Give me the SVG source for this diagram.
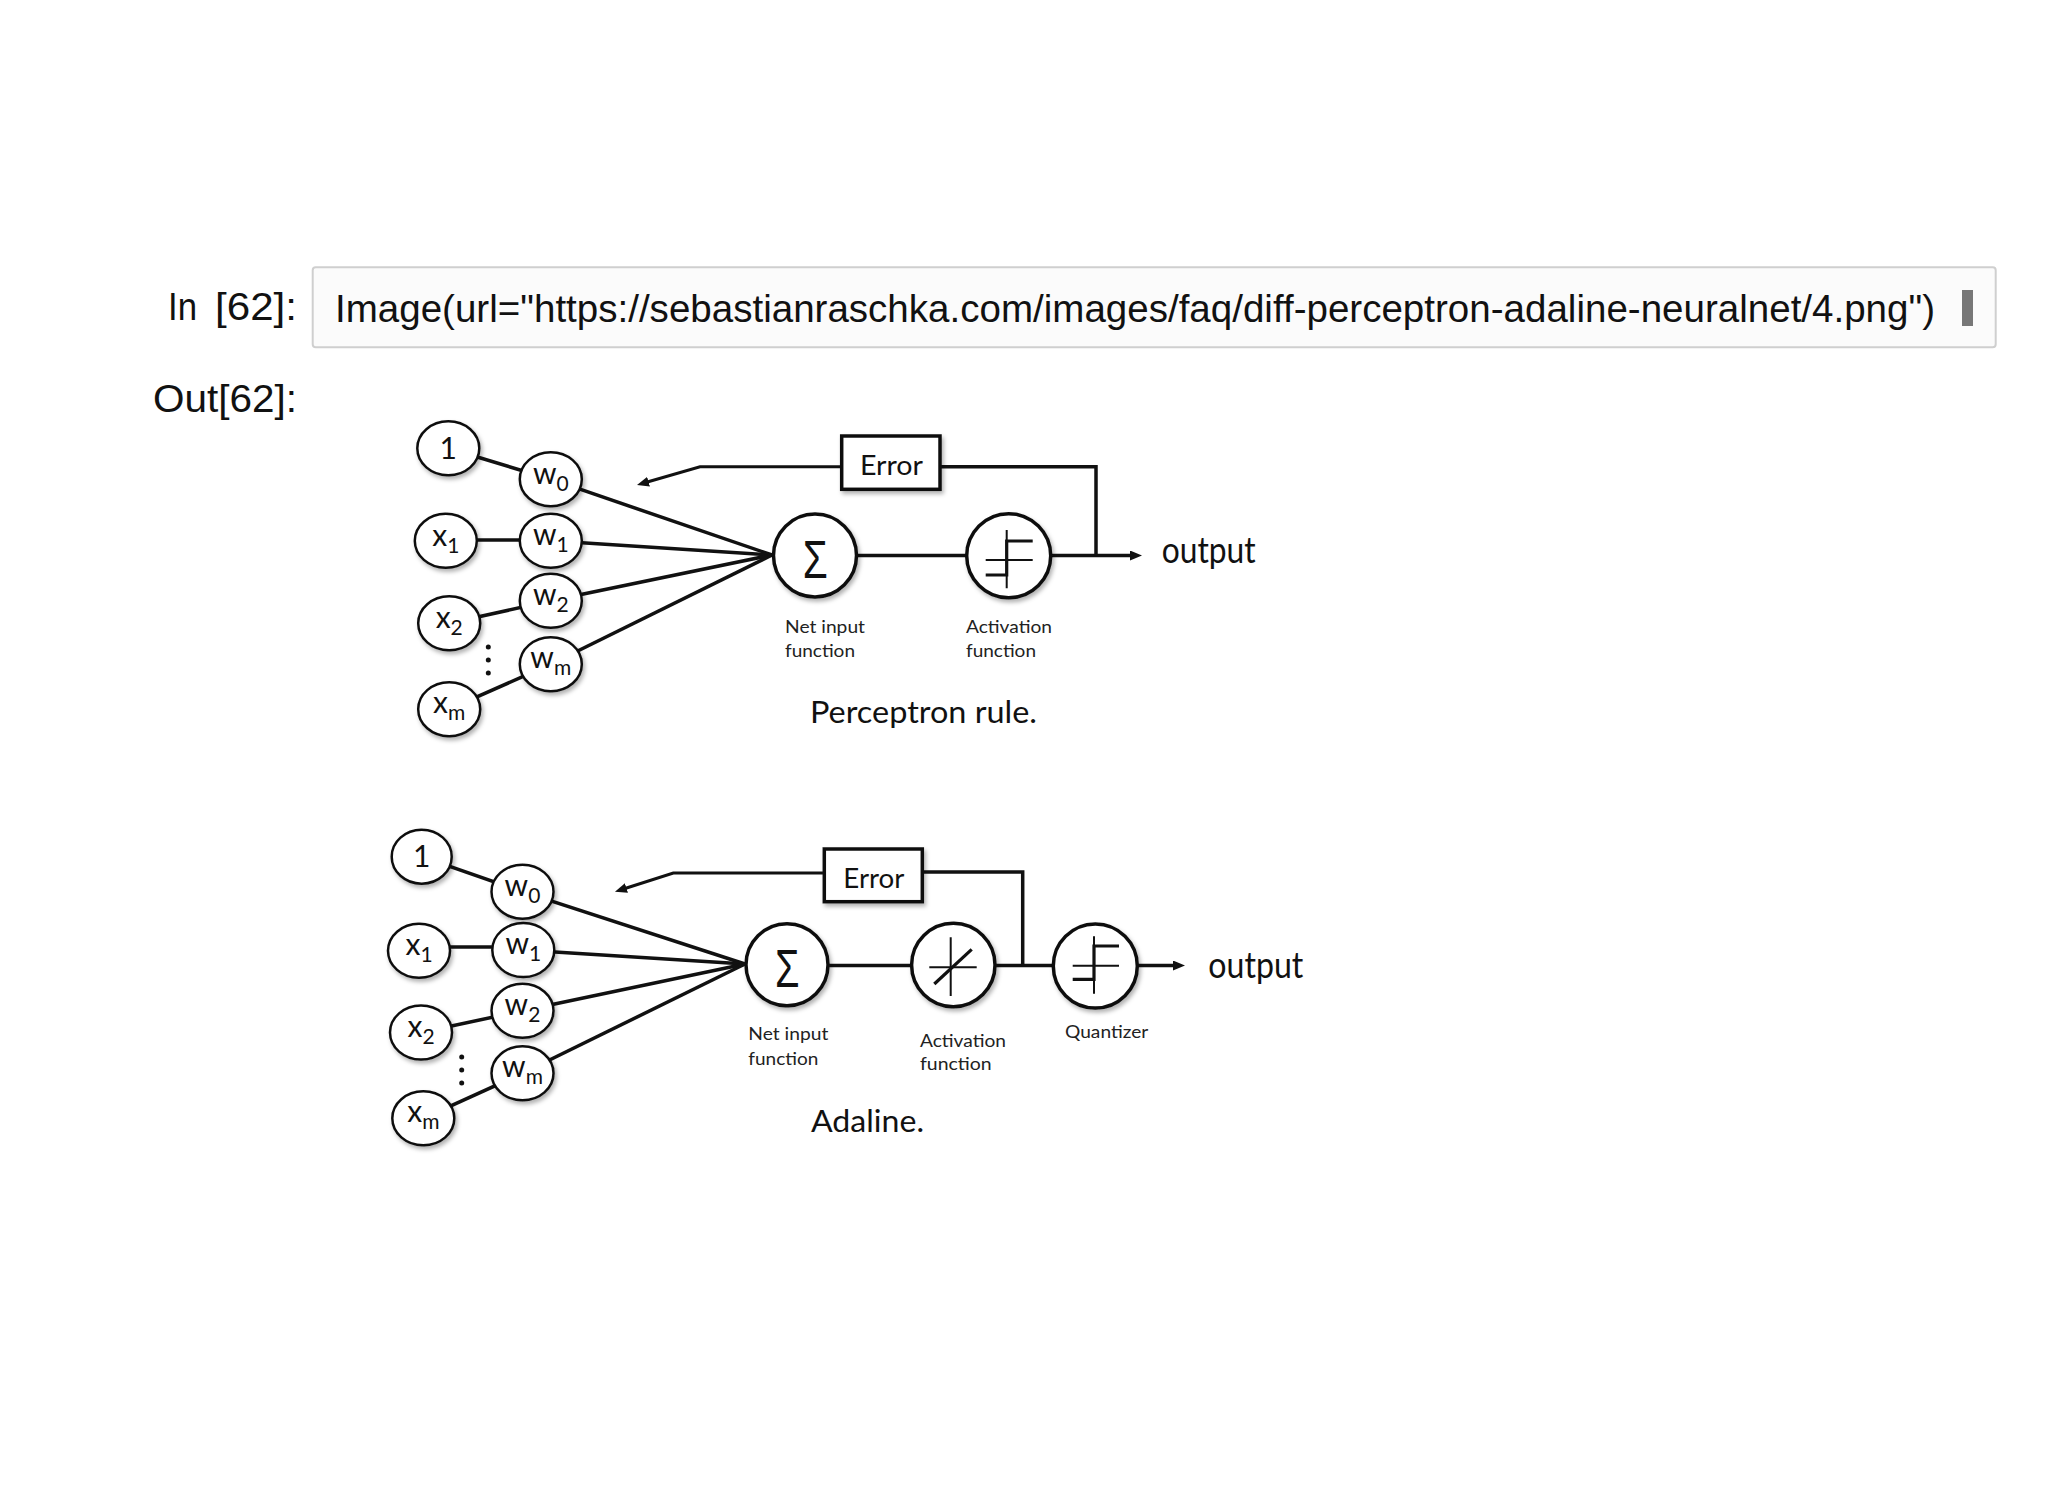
<svg xmlns="http://www.w3.org/2000/svg" width="2048" height="1493" viewBox="0 0 2048 1493">
<style>
.hdr{font-family:"Liberation Sans",Arial,sans-serif;font-size:38px;fill:#111}
.nd{fill:#fff;stroke:#111;stroke-width:2.5;filter:url(#sh)}
.lbl{font-family:Lato,"Liberation Sans",sans-serif;font-size:30px;fill:#111;text-anchor:middle}
.sub{font-size:21px}
.edge{stroke:#111;stroke-width:3.5;fill:none}
.fb{stroke:#111;stroke-width:3;fill:none}
.big{fill:#fff;stroke:#111;stroke-width:3.5;filter:url(#sh)}
.box{fill:#fff;stroke:#111;stroke-width:3.5;filter:url(#sh)}
.sym{font-family:"Liberation Sans",Arial,sans-serif;font-size:54px;fill:#111}
.ax{stroke:#111;stroke-width:2;fill:none}
.st{stroke:#111;stroke-width:3.2;fill:none}
.cap{font-family:Lato,"Liberation Sans",sans-serif;font-size:18px;fill:#222}
.err{font-family:Lato,"Liberation Sans",sans-serif;font-size:26px;fill:#111}
.out{font-family:Lato,"Liberation Sans",sans-serif;font-size:36px;fill:#111}
.title{font-family:Lato,"Liberation Sans",sans-serif;font-size:30px;fill:#111}
</style>
<defs>
<filter id="sh" x="-20%" y="-20%" width="150%" height="150%">
<feDropShadow dx="2" dy="3" stdDeviation="2" flood-color="#000" flood-opacity="0.3"/>
</filter>
<marker id="ah" viewBox="0 0 12 10" refX="4" refY="5" markerWidth="12" markerHeight="10" orient="auto" markerUnits="userSpaceOnUse">
<path d="M0,0 L12,5 L0,10 z" fill="#111"/>
</marker>
</defs>
<rect width="2048" height="1493" fill="#fff"/>

<g id="header">
<text class="hdr" y="320"><tspan x="168" textLength="29" lengthAdjust="spacingAndGlyphs">In</tspan> <tspan x="215" textLength="82" lengthAdjust="spacingAndGlyphs">[62]:</tspan></text>
<rect x="312.7" y="267.3" width="1683" height="80" rx="3" fill="#fbfbfb" stroke="#cfcfcf" stroke-width="2"/>
<text class="hdr" x="335" y="322" textLength="1600" lengthAdjust="spacingAndGlyphs">Image(url="https://sebastianraschka.com/images/faq/diff-perceptron-adaline-neuralnet/4.png")</text>
<rect x="1962" y="290" width="11" height="36" fill="#777"/>
<text class="hdr" x="153" y="411.7" textLength="144" lengthAdjust="spacingAndGlyphs">Out[62]:</text>
</g>

<!-- ===== Perceptron ===== -->
<g id="connectors-perceptron">
<line class="edge" x1="448.3" y1="448.3" x2="550.8" y2="479.2"/>
<line class="edge" x1="445.8" y1="540" x2="550.8" y2="540"/>
<line class="edge" x1="449.2" y1="623.3" x2="550.8" y2="600.8"/>
<line class="edge" x1="449.2" y1="709.2" x2="550.8" y2="664.2"/>
<line class="edge" x1="550.8" y1="479.2" x2="772" y2="555"/>
<line class="edge" x1="550.8" y1="540.8" x2="772" y2="555"/>
<line class="edge" x1="550.8" y1="600.8" x2="772" y2="555"/>
<line class="edge" x1="550.8" y1="664.2" x2="772" y2="555"/>
<line class="edge" x1="815" y1="555.5" x2="1134" y2="555.5" marker-end="url(#ah)"/>
<path class="edge" d="M1096,555.5 V466.7 H890"/>
<path class="fb" d="M890,466.7 H700 L644.7,482.8" marker-end="url(#ah)"/>
</g>

<g id="p-one"><ellipse class="nd" cx="448.3" cy="448.3" rx="31" ry="27"/><text class="lbl" x="448.3" y="459" font-size="28">1</text></g>
<g id="p-w0"><ellipse class="nd" cx="550.8" cy="479.2" rx="31" ry="27"/><text class="lbl" x="550.8" y="484">w<tspan class="sub" dy="7">0</tspan></text></g>
<g id="p-x1"><ellipse class="nd" cx="445.8" cy="540.8" rx="31" ry="27"/><text class="lbl" x="445.8" y="546">x<tspan class="sub" dy="7">1</tspan></text></g>
<g id="p-w1"><ellipse class="nd" cx="550.8" cy="540.8" rx="31" ry="27"/><text class="lbl" x="550.8" y="545">w<tspan class="sub" dy="7">1</tspan></text></g>
<g id="p-x2"><ellipse class="nd" cx="449.2" cy="623.3" rx="31" ry="27"/><text class="lbl" x="449.2" y="628">x<tspan class="sub" dy="7">2</tspan></text></g>
<g id="p-w2"><ellipse class="nd" cx="550.8" cy="600.8" rx="31" ry="27"/><text class="lbl" x="550.8" y="605">w<tspan class="sub" dy="7">2</tspan></text></g>
<g id="p-wm"><ellipse class="nd" cx="550.8" cy="664.2" rx="31" ry="27"/><text class="lbl" x="550.8" y="668">w<tspan class="sub" dy="7">m</tspan></text></g>
<g id="p-xm"><ellipse class="nd" cx="449.2" cy="709.2" rx="31" ry="27"/><text class="lbl" x="449.2" y="713">x<tspan class="sub" dy="7">m</tspan></text></g>
<g id="p-dots" fill="#111"><circle cx="488.3" cy="647" r="2.5"/><circle cx="488.3" cy="660" r="2.5"/><circle cx="488.3" cy="673" r="2.5"/></g>

<g id="p-error"><rect class="box" x="841.7" y="436" width="98.3" height="53.3"/><text class="err" x="860" y="475" textLength="63" lengthAdjust="spacingAndGlyphs">Error</text></g>

<g id="p-sum">
<circle class="big" cx="815" cy="555.5" r="41.5"/>
<text class="sym" x="802.7" y="578.3" textLength="25" lengthAdjust="spacingAndGlyphs">Σ</text>
<text class="cap" x="785" y="632.7" textLength="80" lengthAdjust="spacingAndGlyphs">Net input</text>
<text class="cap" x="785" y="657.3" textLength="70" lengthAdjust="spacingAndGlyphs">function</text>
</g>

<g id="p-act">
<circle class="big" cx="1008.7" cy="555.8" r="42"/>
<path class="ax" d="M1006.7,530 V588.3 M985.7,560 H1032.7"/>
<path class="st" d="M985.7,575 H1006.7 V541 H1032.7"/>
<text class="cap" x="966" y="632.7" textLength="86" lengthAdjust="spacingAndGlyphs">Activation</text>
<text class="cap" x="966" y="657.3" textLength="70" lengthAdjust="spacingAndGlyphs">function</text>
</g>

<g id="p-output"><text class="out" x="1161.7" y="563.3" textLength="94" lengthAdjust="spacingAndGlyphs">output</text></g>
<g id="p-title"><text class="title" x="810" y="723.3" textLength="227" lengthAdjust="spacingAndGlyphs">Perceptron rule.</text></g>

<!-- ===== Adaline ===== -->
<g id="connectors-adaline">
<line class="edge" x1="421.7" y1="856.7" x2="522.5" y2="891.7"/>
<line class="edge" x1="419" y1="947" x2="523.3" y2="947"/>
<line class="edge" x1="421" y1="1032.5" x2="522.5" y2="1010.8"/>
<line class="edge" x1="423.3" y1="1118.3" x2="522.5" y2="1073.3"/>
<line class="edge" x1="522.5" y1="891.7" x2="745" y2="964"/>
<line class="edge" x1="523.3" y1="950" x2="745" y2="964"/>
<line class="edge" x1="522.5" y1="1010.8" x2="745" y2="964"/>
<line class="edge" x1="522.5" y1="1073.3" x2="745" y2="964"/>
<line class="edge" x1="787" y1="965.5" x2="1177" y2="965.5" marker-end="url(#ah)"/>
<path class="edge" d="M1022.7,965.5 V872 H870"/>
<path class="fb" d="M870,873 H673.3 L622.6,889.2" marker-end="url(#ah)"/>
</g>

<g id="a-one"><ellipse class="nd" cx="421.7" cy="856.7" rx="30" ry="27"/><text class="lbl" x="421.7" y="867" font-size="28">1</text></g>
<g id="a-w0"><ellipse class="nd" cx="522.5" cy="891.7" rx="31" ry="27"/><text class="lbl" x="522.5" y="896">w<tspan class="sub" dy="7">0</tspan></text></g>
<g id="a-x1"><ellipse class="nd" cx="419" cy="950.8" rx="31" ry="27"/><text class="lbl" x="419" y="955">x<tspan class="sub" dy="7">1</tspan></text></g>
<g id="a-w1"><ellipse class="nd" cx="523.3" cy="950" rx="31" ry="27"/><text class="lbl" x="523.3" y="954">w<tspan class="sub" dy="7">1</tspan></text></g>
<g id="a-x2"><ellipse class="nd" cx="421" cy="1032.5" rx="31" ry="27"/><text class="lbl" x="421" y="1037">x<tspan class="sub" dy="7">2</tspan></text></g>
<g id="a-w2"><ellipse class="nd" cx="522.5" cy="1010.8" rx="31" ry="27"/><text class="lbl" x="522.5" y="1015">w<tspan class="sub" dy="7">2</tspan></text></g>
<g id="a-wm"><ellipse class="nd" cx="522.5" cy="1073.3" rx="31" ry="27"/><text class="lbl" x="522.5" y="1077">w<tspan class="sub" dy="7">m</tspan></text></g>
<g id="a-xm"><ellipse class="nd" cx="423.3" cy="1118.3" rx="31" ry="27"/><text class="lbl" x="423.3" y="1122">x<tspan class="sub" dy="7">m</tspan></text></g>
<g id="a-dots" fill="#111"><circle cx="461.7" cy="1057" r="2.5"/><circle cx="461.7" cy="1070" r="2.5"/><circle cx="461.7" cy="1083" r="2.5"/></g>

<g id="a-error"><rect class="box" x="824.3" y="849" width="98" height="52.7"/><text class="err" x="843.3" y="888.3" textLength="61" lengthAdjust="spacingAndGlyphs">Error</text></g>

<g id="a-sum">
<circle class="big" cx="787" cy="964.7" r="41"/>
<text class="sym" x="775" y="986.7" textLength="24.5" lengthAdjust="spacingAndGlyphs">Σ</text>
<text class="cap" x="748.3" y="1040" textLength="80" lengthAdjust="spacingAndGlyphs">Net input</text>
<text class="cap" x="748.3" y="1065" textLength="70" lengthAdjust="spacingAndGlyphs">function</text>
</g>

<g id="a-act">
<circle class="big" cx="953.3" cy="965" r="41.7"/>
<path class="ax" d="M950.7,937.3 V996 M929.3,967.3 H976.7"/>
<path class="st" d="M934.3,984 L971.7,949.3"/>
<text class="cap" x="920" y="1046.7" textLength="86" lengthAdjust="spacingAndGlyphs">Activation</text>
<text class="cap" x="920" y="1070" textLength="71.7" lengthAdjust="spacingAndGlyphs">function</text>
</g>

<g id="a-quant">
<circle class="big" cx="1095.3" cy="966" r="42"/>
<path class="ax" d="M1094,936.3 V993.7 M1072.7,965.7 H1119"/>
<path class="st" d="M1072.7,979.3 H1094 V946 H1119"/>
<text class="cap" x="1065" y="1038.3" textLength="83.3" lengthAdjust="spacingAndGlyphs">Quantizer</text>
</g>

<g id="a-output"><text class="out" x="1208.3" y="978.3" textLength="95" lengthAdjust="spacingAndGlyphs">output</text></g>
<g id="a-title"><text class="title" x="811" y="1131.7" textLength="113" lengthAdjust="spacingAndGlyphs">Adaline.</text></g>
</svg>
